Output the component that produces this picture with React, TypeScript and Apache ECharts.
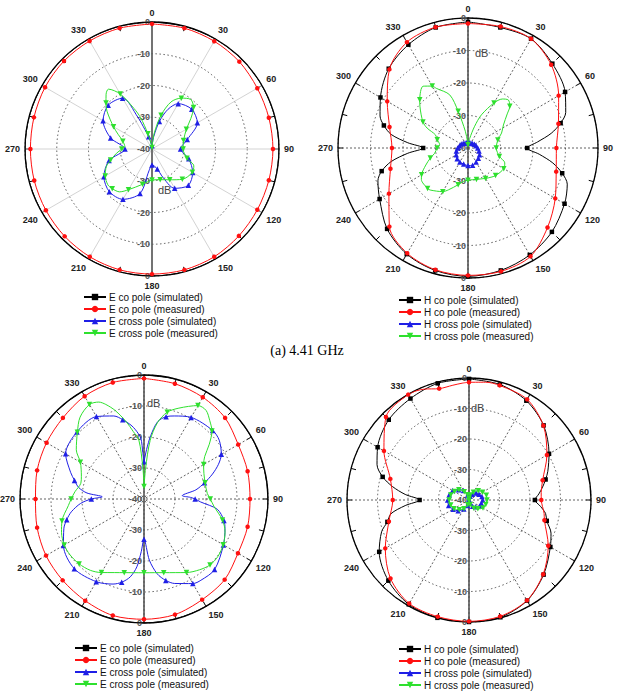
import React, { useEffect, useRef } from 'react';
import * as echarts from 'echarts';

type Pt = [number, number]; // [angle (deg), level (dB)]

const E_NAMES = ['E co pole (simulated)', 'E co pole (measured)', 'E cross pole (simulated)', 'E cross pole (measured)'];
const H_NAMES = ['H co pole (simulated)', 'H co pole (measured)', 'H cross pole (simulated)', 'H cross pole (measured)'];
const CAPTION = '(a) 4.41 GHz';
const UNIT = 'dB';
const R_MIN = -40;
const R_MAX = 0;
const R_STEP = 10;
const A_STEP = 30;

// ---------- Plot 1 : E-plane (top) ----------
const P1_CO_SIM: Pt[] = [[0,0],[15,0],[30,0],[45,0],[60,0],[75,0],[90,0],[105,0],[120,0],[135,0],[150,0],[165,0],[180,0],[195,0],[210,0],[225,0],[240,0],[255,0],[270,0],[285,0],[300,0],[315,0],[330,0],[345,0]];
const P1_CO_MEAS: Pt[] = [[0,-0.6],[15,-0.6],[30,-0.8],[45,-1.1],[60,-1.7],[75,-1.9],[90,-1.9],[105,-1.9],[120,-1.7],[135,-1.3],[150,-0.8],[165,-0.6],[180,-0.6],[195,-0.6],[210,-0.8],[225,-1.1],[240,-1.4],[255,-1.6],[270,-1.7],[285,-1.5],[300,-1.1],[315,-0.8],[330,-0.7],[345,-0.6]];
const P1_X_SIM: Pt[] = [[0,-39],[8,-36],[15,-31],[22,-26.5],[30,-23.5],[45,-22.3],[60,-23.5],[75,-28.5],[90,-31],[105,-28],[120,-25.2],[135,-23.8],[150,-25.7],[160,-31],[165,-33.5],[180,-35],[188,-33],[195,-25.5],[210,-21.7],[225,-21],[240,-22.5],[255,-26],[270,-31.5],[285,-26.5],[300,-22.2],[315,-20.5],[330,-21.5],[336,-29],[340,-33.5],[345,-36],[352,-38.5]];
const P1_X_MEAS: Pt[] = [[0,-39.5],[8,-35],[15,-29],[22,-24],[30,-21.5],[38,-20.2],[45,-21.5],[52,-24.5],[60,-27.5],[75,-29.7],[90,-30.2],[105,-28.6],[112,-25.8],[120,-25.3],[135,-26.5],[150,-28.8],[165,-30],[180,-30.2],[195,-28.5],[210,-25.2],[217,-23.1],[225,-22.3],[231,-22.1],[240,-23],[249,-24.6],[255,-26.5],[263,-28.7],[270,-30.5],[275,-31.4],[285,-30.5],[293,-28.5],[300,-26],[310,-21.5],[315,-19.5],[320,-17.5],[324,-16.7],[330,-20],[336,-26],[340,-29.5],[345,-35],[352,-38.5]];

// ---------- Plot 2 : H-plane (top) ----------
const P2_CO_SIM: Pt[] = [[0,-1.2],[15,-1.6],[30,-1.2],[45,-3.3],[60,-5.5],[70,-8],[75,-10.5],[80,-14],[85,-18.5],[90,-21.8],[95,-18],[100,-13.5],[105,-10],[110,-7.5],[120,-5.7],[135,-3.5],[150,-2],[165,-1],[180,-0.5],[195,-1],[210,-2.3],[225,-4.8],[240,-8.6],[250,-10.5],[255,-12.5],[260,-16],[265,-21.4],[270,-26.2],[275,-21.4],[280,-16],[285,-13.2],[290,-11.2],[300,-8.9],[315,-5.5],[330,-3.3],[345,-1.6]];
const P2_CO_MEAS: Pt[] = [[0,-1.7],[15,-1.3],[30,-1.2],[45,-3.8],[60,-7.8],[75,-11.2],[90,-12.8],[105,-11.9],[120,-9],[135,-5.4],[150,-1.5],[165,-0.7],[180,-0.8],[195,-1.2],[210,-2.6],[225,-5.8],[240,-11.9],[255,-15.3],[270,-16.6],[285,-15],[300,-11.3],[315,-5.8],[330,-2.4],[345,-1.5]];
const P2_X_SIM: Pt[] = [[0,-38.3],[15,-38.3],[30,-38.2],[45,-38],[60,-37.7],[75,-37.4],[90,-37],[105,-36.5],[120,-35.9],[135,-35.5],[150,-35],[165,-34.5],[180,-34.6],[195,-34.9],[210,-35],[225,-35.3],[240,-35.8],[255,-36.3],[270,-36.8],[285,-37.3],[300,-37.6],[315,-37.9],[330,-38.2],[345,-38.3]];
const P2_X_MEAS: Pt[] = [[0,-39],[10,-37],[17,-33],[22,-29],[30,-24],[35,-21.6],[40,-20.7],[45,-21.8],[49,-24],[57,-27],[66,-28.7],[75,-30.5],[90,-31.3],[105,-30],[112,-27.8],[120,-27.3],[135,-28],[146,-28.9],[150,-29.2],[165,-30],[180,-30.1],[188,-29.6],[195,-28.3],[205,-25.8],[210,-24.5],[222,-22.6],[225,-22.4],[236,-22.7],[240,-23.5],[248,-26],[255,-28],[261,-29.6],[270,-30.5],[277,-31.2],[285,-30.2],[292,-29.2],[296,-26],[300,-24],[311,-20.4],[315,-19],[324,-16.5],[330,-18],[332,-19.2],[341,-22.7],[345,-28.3],[351,-34.8],[356,-38]];

// ---------- Plot 3 : E-plane (bottom) ----------
const P3_CO_SIM: Pt[] = [[0,0],[15,0],[30,0],[45,0],[60,0],[75,0],[90,0],[105,0],[120,0],[135,0],[150,0],[165,0],[180,0],[195,0],[210,0],[225,0],[240,0],[255,0],[270,0],[285,0],[300,0],[315,0],[330,0],[345,0]];
const P3_CO_MEAS: Pt[] = [[0,-1.1],[15,-1.5],[30,-2.1],[45,-3],[60,-4.9],[75,-5.4],[90,-5.8],[105,-5.4],[120,-5],[135,-3.2],[150,-2.5],[165,-1.4],[180,-1.2],[195,-1.1],[210,-2.1],[225,-2.9],[240,-3.5],[255,-4.3],[270,-5],[285,-4.3],[300,-3.7],[315,-3],[330,-1.7],[345,-1.1]];
const P3_X_SIM: Pt[] = [[0,-28],[3,-24],[6,-19.5],[10,-14.7],[15,-12.5],[20,-11.5],[30,-9.6],[45,-8.7],[52,-9.2],[60,-11.2],[65,-13.5],[70,-16.5],[75,-19.8],[80,-23],[85,-27.6],[88,-25],[90,-23.5],[93,-21.7],[98,-16.1],[105,-13.3],[110,-12.2],[120,-10.4],[135,-7.8],[145,-8],[150,-8.5],[160,-11],[165,-12.8],[170,-15.5],[175,-20.2],[180,-27],[183,-23],[186,-18],[190,-14.5],[195,-12.2],[200,-10.8],[210,-9.2],[225,-8.2],[240,-10],[250,-12.5],[255,-14.2],[260,-16.2],[266,-19.5],[270,-23],[273,-26.5],[276,-21.5],[280,-18.6],[285,-16.8],[290,-14.8],[300,-10.8],[315,-9.4],[330,-9.3],[340,-11.5],[345,-13.5],[350,-15.8],[353,-17.5],[357,-20.4],[358.5,-25]];
const P3_X_MEAS: Pt[] = [[0,-36],[3,-30],[6,-21],[10,-15],[15,-11],[21,-8.6],[30,-5.2],[35,-5.1],[40,-7],[45,-9],[50,-12.5],[55,-16.1],[60,-17.8],[67,-19],[75,-19.6],[85,-19.5],[90,-18.6],[96,-17.3],[105,-13.8],[112,-11.8],[120,-10.5],[128,-9.8],[135,-9.9],[142,-11],[150,-12.6],[157,-14.2],[165,-15.4],[172,-16],[180,-16.2],[188,-16],[195,-15.4],[202,-14.4],[210,-12.6],[217,-11.2],[225,-10.4],[233,-10.1],[240,-10.3],[248,-11.3],[255,-12.6],[265,-15.5],[270,-16.5],[276,-17.6],[284,-19],[290,-18.5],[300,-16.3],[306,-13],[315,-9.6],[322,-6.5],[330,-4.8],[335,-5.5],[338,-7.1],[342,-10],[347,-14.4],[351,-18],[355,-20.9],[358,-30]];

// ---------- Plot 4 : H-plane (bottom) ----------
const P4_CO_SIM: Pt[] = [[0,-0.3],[15,-0.8],[30,-2.4],[45,-5.4],[60,-9.7],[70,-12.5],[75,-14],[80,-15.5],[85,-17],[90,-18.4],[95,-16.5],[100,-14.5],[105,-13.6],[112,-11],[120,-9.2],[135,-5.4],[150,-1.9],[165,-0.2],[180,0],[195,0],[210,-0.5],[225,-2.6],[240,-6],[250,-9.5],[255,-12.3],[260,-14],[265,-19],[270,-23.8],[275,-19],[280,-14.5],[285,-10.7],[291,-7.7],[300,-5.4],[315,-2.8],[330,-1.6],[345,-0.4]];
const P4_CO_MEAS: Pt[] = [[0,-1.4],[8,-1],[15,-1.1],[30,-1.9],[45,-5.5],[60,-10.5],[75,-15],[84,-16.2],[90,-16.3],[100,-15],[105,-14.4],[120,-10],[135,-5.6],[150,-2],[165,-0.5],[180,-0.2],[195,-0.4],[210,-0.8],[225,-3.6],[240,-8.3],[255,-12.8],[270,-15],[285,-13.3],[300,-7.8],[315,-1.5],[330,-0.1],[338,-0.8],[345,-2.2],[352,-2],[357,-1.6]];
const P4_X_SIM: Pt[] = [[0,-39.8],[15,-38.7],[30,-37.8],[45,-36.7],[60,-36.2],[75,-35.6],[90,-35.5],[105,-35.8],[120,-36],[135,-36.9],[150,-37.6],[165,-38.9],[180,-39.8],[195,-38.1],[210,-36.6],[225,-35],[240,-34],[255,-33.1],[270,-33],[285,-33.3],[300,-33.8],[315,-35.2],[330,-36.4],[345,-38.3]];
const P4_X_MEAS: Pt[] = [[0,-39.6],[15,-38.3],[30,-37.1],[45,-35.7],[60,-34.9],[75,-34.1],[90,-34.1],[105,-34.3],[120,-34.7],[135,-35.9],[150,-36.9],[165,-38.5],[180,-39.7],[195,-38.4],[210,-36.7],[225,-35.5],[240,-34.3],[255,-33.8],[270,-33.5],[285,-33.8],[300,-34.5],[315,-35.3],[330,-36.9],[345,-38.2]];

// ---------- styling / layout ----------
const SERIES_STYLE = [
  { color: '#000000', symbol: 'rect', size: 4.5, rotate: 0 },
  { color: '#ff1010', symbol: 'circle', size: 4.5, rotate: 0 },
  { color: '#1f1fe6', symbol: 'triangle', size: 5.5, rotate: 0 },
  { color: '#2ee02e', symbol: 'triangle', size: 5.5, rotate: 180 },
];

const FONT = '"Liberation Sans", Arial, sans-serif';

const PLOTS = [
  { cx: 152, cy: 149, r: 127, names: E_NAMES, curves: [P1_CO_SIM, P1_CO_MEAS, P1_X_SIM, P1_X_MEAS], marks: [false, true, true, true], lightSpokes: true, unit: [6, 41], legend: [83, 292] },
  { cx: 468, cy: 148, r: 130, names: H_NAMES, curves: [P2_CO_SIM, P2_CO_MEAS, P2_X_SIM, P2_X_MEAS], marks: [true, true, true, true], lightSpokes: false, unit: [7, -95], legend: [398, 295] },
  { cx: 144, cy: 499, r: 124, names: E_NAMES, curves: [P3_CO_SIM, P3_CO_MEAS, P3_X_SIM, P3_X_MEAS], marks: [false, true, true, true], lightSpokes: false, unit: [3, -96], legend: [74, 643] },
  { cx: 469, cy: 500, r: 122, names: H_NAMES, curves: [P4_CO_SIM, P4_CO_MEAS, P4_X_SIM, P4_X_MEAS], marks: [true, true, true, true], lightSpokes: false, unit: [2, -92], legend: [398, 644] },
];

function toData(pts: Pt[], marks: boolean) {
  const closed: Pt[] = [...pts, [360, pts[0][1]]];
  return closed.map(([a, v], idx) => {
    const showMark = marks && idx < pts.length && a % 15 === 0;
    return showMark ? { value: [v, a] } : { value: [v, a], symbol: 'none' };
  });
}

function buildOption() {
  const n = PLOTS.length;
  const polar: any[] = [];
  const angleAxis: any[] = [];
  const radiusAxis: any[] = [];
  const series: any[] = [];
  const legend: any[] = [];
  const graphic: any[] = [];

  PLOTS.forEach((p) => polar.push({ center: [p.cx, p.cy], radius: p.r }));
  PLOTS.forEach((p) => polar.push({ center: [p.cx, p.cy], radius: p.r }));

  PLOTS.forEach((p, i) => {
    angleAxis.push({
      polarIndex: i,
      type: 'value',
      min: 0,
      max: 360,
      interval: A_STEP,
      startAngle: 90,
      clockwise: true,
      axisLine: { lineStyle: { color: '#000', width: 1.3 } },
      axisTick: { show: true, inside: true, length: 5, lineStyle: { color: '#000', width: 1 } },
      minorTick: { show: true, splitNumber: 2, length: 5, lineStyle: { color: '#000', width: 1 } },
      axisLabel: {
        fontSize: 9,
        fontWeight: 'bold',
        color: '#222',
        margin: 5,
        fontFamily: FONT,
        formatter: (v: number) => (v >= 360 ? '' : String(v)),
      },
      splitLine: {
        show: true,
        lineStyle: p.lightSpokes
          ? { color: '#c8c8c8', width: 0.8, type: 'solid' }
          : { color: '#3a3a3a', width: 0.8, type: [2, 2] },
      },
      z: 1,
    });
    radiusAxis.push({
      polarIndex: i,
      type: 'value',
      min: R_MIN,
      max: R_MAX,
      interval: R_STEP,
      axisLine: { lineStyle: { color: '#555', width: 1.6 } },
      axisTick: { show: false },
      axisLabel: { fontSize: 9, color: '#555', fontWeight: 'bold', margin: 2, align: 'right', fontFamily: FONT },
      splitLine: { show: true, lineStyle: { color: '#333', width: 0.8, type: [1.5, 2.5] } },
      z: 1,
    });
  });

  PLOTS.forEach((p, i) => {
    angleAxis.push({
      polarIndex: n + i,
      type: 'value',
      min: 0,
      max: 360,
      startAngle: 270,
      clockwise: true,
      axisLine: { show: false },
      axisTick: { show: false },
      axisLabel: { show: false },
      splitLine: { show: false },
    });
    radiusAxis.push({
      polarIndex: n + i,
      type: 'value',
      min: R_MIN,
      max: R_MAX,
      interval: R_STEP,
      axisLine: { lineStyle: { color: '#555', width: 1.6 } },
      axisTick: { show: false },
      axisLabel: { fontSize: 9, color: '#555', fontWeight: 'bold', margin: -2, align: 'right', showMinLabel: false, fontFamily: FONT },
      splitLine: { show: false },
      z: 1,
    });
  });

  PLOTS.forEach((p, i) => {
    p.curves.forEach((pts, k) => {
      const st = SERIES_STYLE[k];
      series.push({
        type: 'line',
        name: p.names[k],
        coordinateSystem: 'polar',
        polarIndex: i,
        data: toData(pts, p.marks[k]),
        smooth: 0.3,
        symbol: st.symbol,
        symbolSize: st.size,
        symbolRotate: st.rotate,
        showSymbol: true,
        showAllSymbol: true,
        clip: false,
        lineStyle: { color: st.color, width: 1 },
        itemStyle: { color: st.color },
        emphasis: { disabled: true },
        z: 3 + k,
      });
    });
    legend.push({
      data: p.names,
      orient: 'vertical',
      left: p.legend[0],
      top: p.legend[1],
      padding: 0,
      itemWidth: 22,
      itemHeight: 8,
      itemGap: 2,
      selectedMode: false,
      textStyle: { fontSize: 10, color: '#111', fontFamily: FONT, padding: [0, 0, 0, -2] },
    });
    graphic.push({
      type: 'text',
      x: p.cx + p.unit[0],
      y: p.cy + p.unit[1],
      style: { text: UNIT, fontSize: 11, fill: '#444', fontFamily: FONT, verticalAlign: 'middle', align: 'left' },
      z: 10,
    });
  });

  graphic.push({
    type: 'text',
    x: 307,
    y: 350,
    style: { text: CAPTION, fontSize: 14, fill: '#000', fontFamily: '"Liberation Serif", "Times New Roman", serif', verticalAlign: 'middle', align: 'center' },
  });

  return {
    animation: false,
    backgroundColor: '#ffffff',
    polar,
    angleAxis,
    radiusAxis,
    legend,
    graphic,
    series,
  };
}

export default function App() {
  const ref = useRef<HTMLDivElement>(null);
  useEffect(() => {
    if (!ref.current) return;
    const chart = echarts.init(ref.current, null, { renderer: 'svg' });
    chart.setOption(buildOption() as any);
    return () => chart.dispose();
  }, []);
  return <div ref={ref} style={{ position: 'absolute', left: 0, top: 0, width: 623, height: 693 }} />;
}
